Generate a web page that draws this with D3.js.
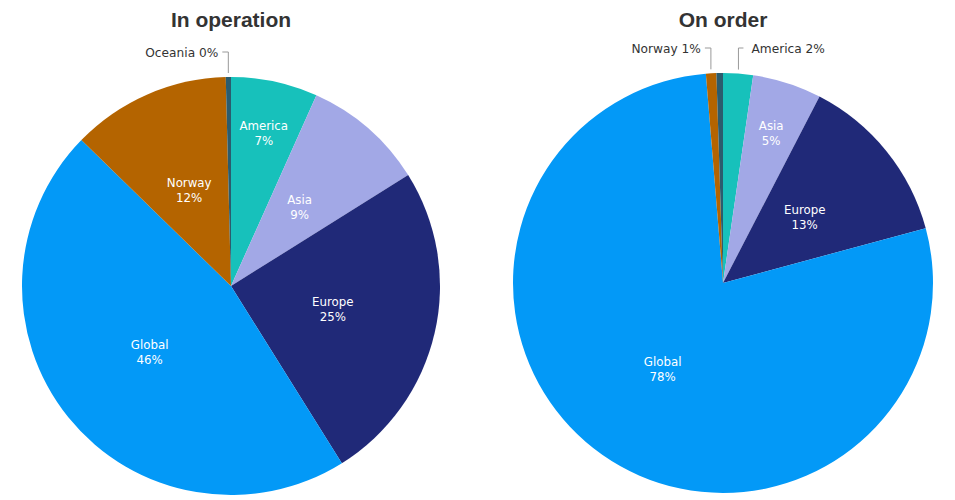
<!DOCTYPE html>
<html>
<head>
<meta charset="utf-8">
<script src="https://cdn.jsdelivr.net/npm/d3@7"></script>
<style>
  html, body { margin: 0; padding: 0; background: #fff; }
  svg { display: block; }
</style>
</head>
<body>
<div id="chart"></div>
<script>
// Shares by region (percent)
const regions = ['America', 'Asia', 'Europe', 'Global', 'Norway', 'Oceania'];
const inOperation = [6.7, 9.4, 25.0, 46.2, 12.3, 0.4];
const onOrder = [2.3, 5.3, 13.2, 77.9, 0.8, 0.5];
const titles = ['In operation', 'On order'];
const hiddenLabels = [[], ['Oceania']];

const colors = {
  America: '#17c1bb',
  Asia: '#a2a8e6',
  Europe: '#202978',
  Global: '#0399f7',
  Norway: '#b46400',
  Oceania: '#2b5c6e'
};

const width = 955;
const height = 500;

const svg = d3.select('#chart').append('svg')
  .attr('width', width)
  .attr('height', height);

const pies = [
  { title: titles[0], values: inOperation, hidden: hiddenLabels[0], cx: 231, cy: 286, r: 209 },
  { title: titles[1], values: onOrder, hidden: hiddenLabels[1], cx: 723, cy: 283, r: 210 }
];

const pie = d3.pie().sort(null).value((d) => d.value);

function drawPie(cfg) {
  const data = regions.map((name, i) => ({ name, value: cfg.values[i] }));
  const arcs = pie(data);
  const r = cfg.r;

  svg.append('text')
    .attr('x', cfg.cx)
    .attr('y', 27)
    .attr('text-anchor', 'middle')
    .attr('font-family', 'Liberation Sans, Arial, sans-serif')
    .attr('font-weight', 'bold')
    .attr('font-size', 21)
    .attr('fill', '#333')
    .text(cfg.title);

  const g = svg.append('g').attr('transform', `translate(${cfg.cx},${cfg.cy})`);

  const arc = d3.arc().innerRadius(0).outerRadius(r);

  g.selectAll('path.slice')
    .data(arcs)
    .enter()
    .append('path')
    .attr('class', 'slice')
    .attr('d', arc)
    .attr('fill', (d) => colors[d.data.name]);

  arcs.forEach((d) => {
    if (cfg.hidden.includes(d.data.name)) return;
    const pct = Math.round(d.data.value) + '%';
    const mid = (d.startAngle + d.endAngle) / 2;
    if (d.data.value >= 3) {
      // label inside the slice
      const lr = d.data.value < 8 ? r * 0.75 : r * 0.5;
      const x = Math.sin(mid) * lr;
      const y = -Math.cos(mid) * lr;
      const t = g.append('text')
        .attr('text-anchor', 'middle')
        .attr('font-family', 'DejaVu Sans, Verdana, sans-serif')
        .attr('font-size', 11.8)
        .attr('fill', '#fff');
      t.append('tspan').attr('x', x).attr('y', y - 3).text(d.data.name);
      t.append('tspan').attr('x', x).attr('y', y + 12).text(pct);
    } else {
      // label outside with connector
      const left = mid > Math.PI;
      const sx = Math.sin(mid) * (r + 4);
      const sy = -Math.cos(mid) * (r + 4);
      const ey = -(r + 25);
      const hx = sx + (left ? -6 : 5);
      g.append('path')
        .attr('d', `M${sx},${sy}L${sx},${ey}L${hx},${ey}`)
        .attr('fill', 'none')
        .attr('stroke', '#999')
        .attr('stroke-width', 1);
      g.append('text')
        .attr('x', hx + (left ? -4 : 8))
        .attr('y', ey + 5)
        .attr('text-anchor', left ? 'end' : 'start')
        .attr('font-family', 'DejaVu Sans, Verdana, sans-serif')
        .attr('font-size', 12.2)
        .attr('fill', '#333')
        .text(`${d.data.name} ${pct}`);
    }
  });
}

pies.forEach(drawPie);
</script>
</body>
</html>
